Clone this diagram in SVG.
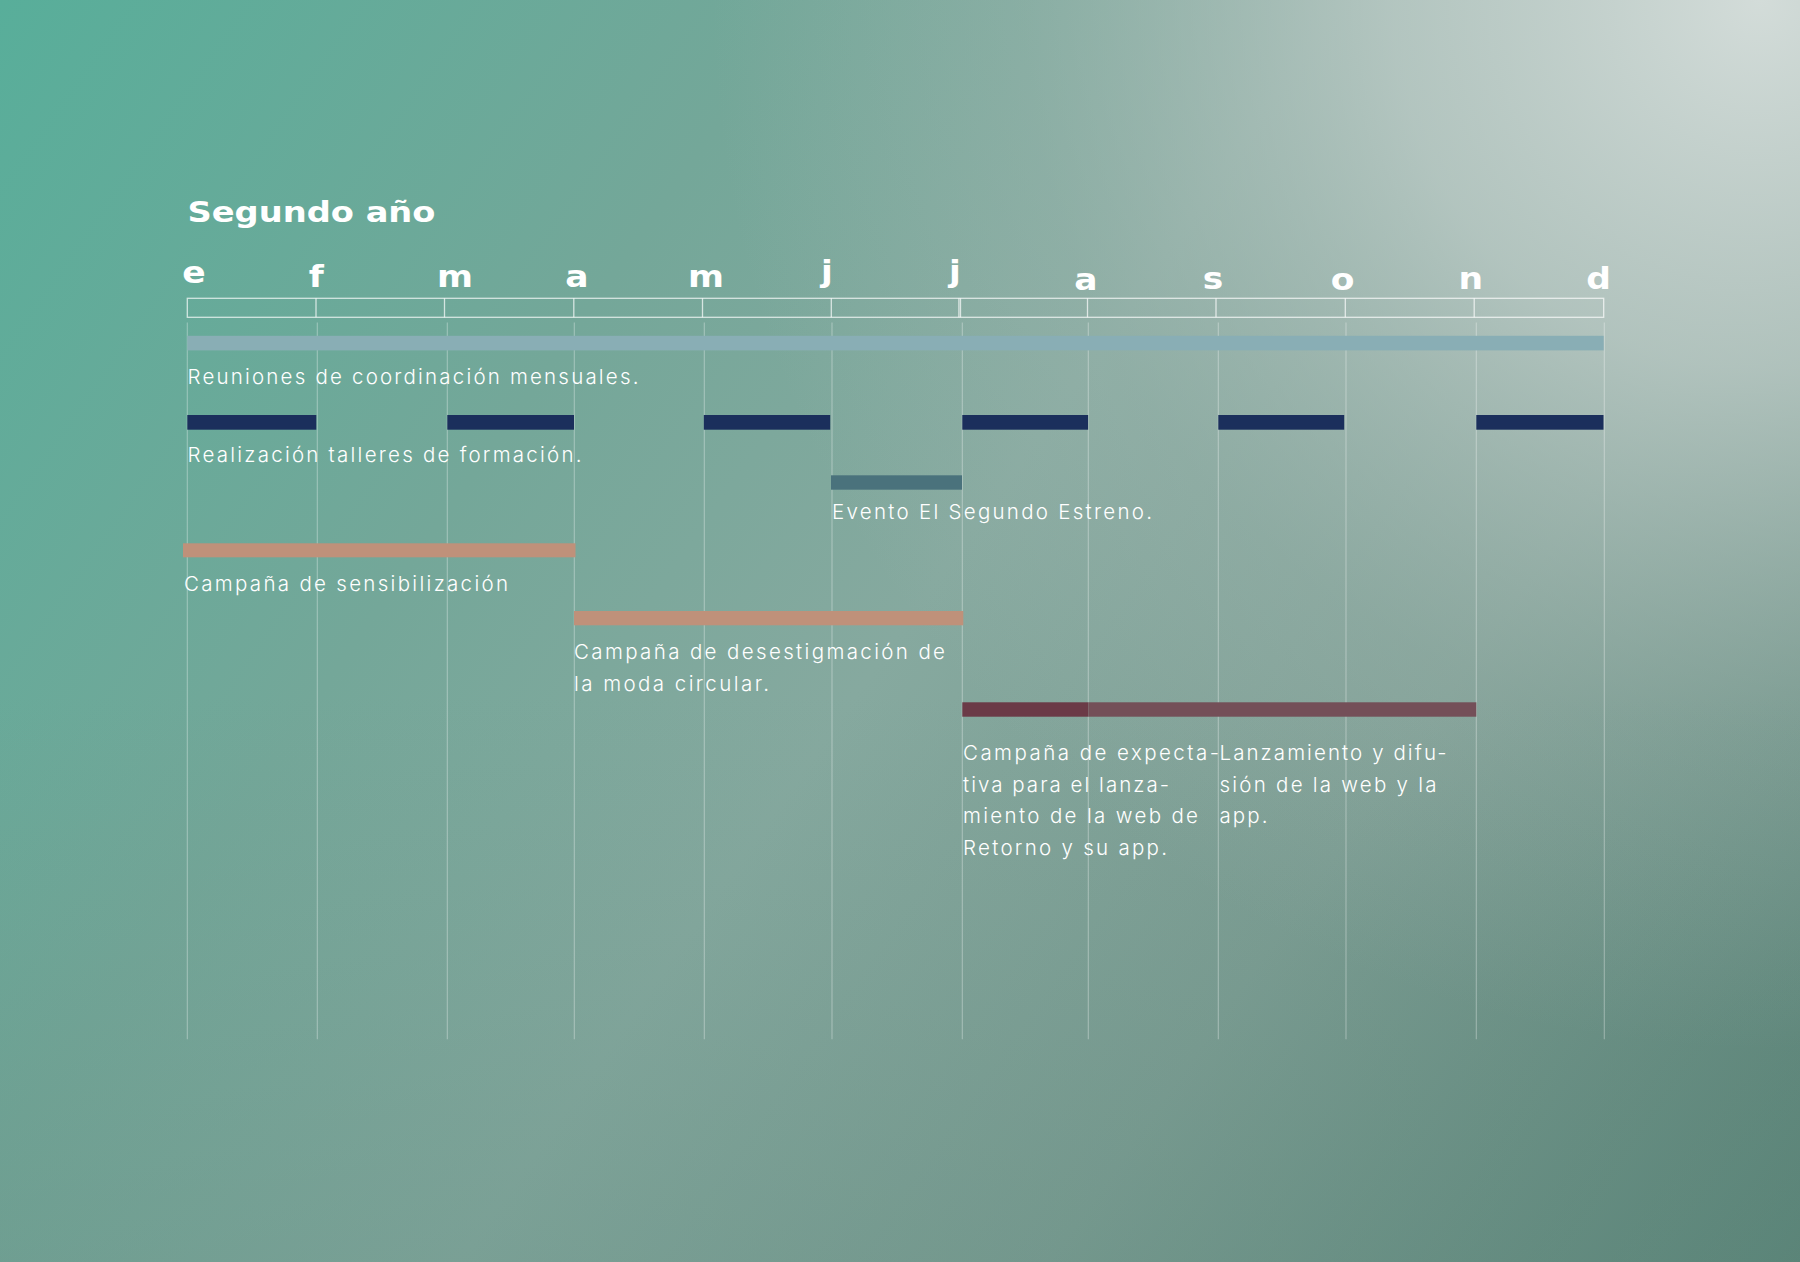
<svg xmlns="http://www.w3.org/2000/svg" width="1800" height="1262" viewBox="0 0 1800 1262">
  <defs>
    <linearGradient id="bg" gradientUnits="userSpaceOnUse" x1="0" y1="0" x2="1800" y2="1262">
      <stop offset="0" stop-color="#58ae9a"/>
      <stop offset="0.3" stop-color="#74a799"/>
      <stop offset="0.5" stop-color="#86a99f"/>
      <stop offset="0.72" stop-color="#7d9d93"/>
      <stop offset="1" stop-color="#5a8276"/>
    </linearGradient>
    <radialGradient id="glow" gradientUnits="userSpaceOnUse" cx="1760" cy="0" r="1050">
      <stop offset="0" stop-color="#d3dcd9" stop-opacity="1"/>
      <stop offset="0.35" stop-color="#c2cfcb" stop-opacity="0.75"/>
      <stop offset="0.7" stop-color="#a9bdb7" stop-opacity="0.3"/>
      <stop offset="1" stop-color="#a9bdb7" stop-opacity="0"/>
    </radialGradient>
    <linearGradient id="shade" x1="0" y1="0" x2="0" y2="1">
      <stop offset="0.55" stop-color="#5d8a7e" stop-opacity="0"/>
      <stop offset="1" stop-color="#5d8a7e" stop-opacity="0.3"/>
    </linearGradient>
  </defs>
  <style>
    .title { font-family: "DejaVu Sans", "Liberation Sans", sans-serif; font-weight: bold; fill: #ffffff; }
    .month { font-family: "DejaVu Sans", "Liberation Sans", sans-serif; font-weight: bold; font-size: 30px; fill: #ffffff; text-anchor: middle; }
    .label { font-family: Inter, "Liberation Sans", sans-serif; font-size: 20.5px; font-weight: 300; fill: #ffffff; }
    .frame { fill: none; stroke: #ffffff; stroke-opacity: 0.7; stroke-width: 1.3; }
    .div { stroke: #ffffff; stroke-opacity: 0.7; stroke-width: 1.3; }
    .grid { stroke: #ffffff; stroke-opacity: 0.33; stroke-width: 1.1; }
    .reu { fill: #89aeb5; }
    .taller { fill: #1b2f5c; }
    .evento { fill: #4a727c; }
    .camp { fill: #bf917a; }
  </style>

  <!-- background -->
  <rect x="0" y="0" width="1800" height="1262" fill="url(#bg)"/>
  <rect x="0" y="0" width="1800" height="1262" fill="url(#glow)"/>
  <rect x="0" y="0" width="1800" height="1262" fill="url(#shade)"/>

  <!-- title -->
  <g id="title">
    <text class="title" x="187.5" y="221.7" font-size="29" textLength="248" lengthAdjust="spacingAndGlyphs">Segundo año</text>
  </g>

  <!-- month header -->
  <g id="months">
    <text class="month" transform="translate(194 283) scale(1.15 1)">e</text>
    <text class="month" transform="translate(316.3 287) scale(1.15 1)">f</text>
    <text class="month" transform="translate(455 287) scale(1.15 1)">m</text>
    <text class="month" transform="translate(577 287) scale(1.15 1)">a</text>
    <text class="month" transform="translate(706 287) scale(1.15 1)">m</text>
    <text class="month" transform="translate(827 282) scale(1.15 1)">j</text>
    <text class="month" transform="translate(955 282) scale(1.15 1)">j</text>
    <text class="month" transform="translate(1086 290) scale(1.15 1)">a</text>
    <text class="month" transform="translate(1213 289.3) scale(1.15 1)">s</text>
    <text class="month" transform="translate(1342.5 289.7) scale(1.15 1)">o</text>
    <text class="month" transform="translate(1470.7 289) scale(1.15 1)">n</text>
    <text class="month" transform="translate(1598.5 289) scale(1.15 1)">d</text>
  </g>

  <g id="header-frame">
    <rect class="frame" x="187.3" y="298.3" width="1416.4" height="19"/>
    <line class="div" x1="316" y1="298.3" x2="316" y2="317.3"/>
    <line class="div" x1="444.5" y1="298.3" x2="444.5" y2="317.3"/>
    <line class="div" x1="573.8" y1="298.3" x2="573.8" y2="317.3"/>
    <line class="div" x1="702.5" y1="298.3" x2="702.5" y2="317.3"/>
    <line class="div" x1="831.3" y1="298.3" x2="831.3" y2="317.3"/>
    <line class="div" x1="958.9" y1="298.3" x2="958.9" y2="317.3"/>
    <line class="div" x1="960.5" y1="298.3" x2="960.5" y2="317.3"/>
    <line class="div" x1="1087.5" y1="298.3" x2="1087.5" y2="317.3"/>
    <line class="div" x1="1216" y1="298.3" x2="1216" y2="317.3"/>
    <line class="div" x1="1345.3" y1="298.3" x2="1345.3" y2="317.3"/>
    <line class="div" x1="1474.2" y1="298.3" x2="1474.2" y2="317.3"/>
  </g>

  <!-- grid lines -->
  <g id="connectors">
    <line class="grid" x1="187.3" y1="322.5" x2="187.3" y2="1039.3"/>
    <line class="grid" x1="317.3" y1="322.5" x2="317.3" y2="1039.3"/>
    <line class="grid" x1="447.3" y1="322.5" x2="447.3" y2="1039.3"/>
    <line class="grid" x1="574.3" y1="322.5" x2="574.3" y2="1039.3"/>
    <line class="grid" x1="704.3" y1="322.5" x2="704.3" y2="1039.3"/>
    <line class="grid" x1="832" y1="322.5" x2="832" y2="1039.3"/>
    <line class="grid" x1="962.3" y1="322.5" x2="962.3" y2="1039.3"/>
    <line class="grid" x1="1088.3" y1="322.5" x2="1088.3" y2="1039.3"/>
    <line class="grid" x1="1218.3" y1="322.5" x2="1218.3" y2="1039.3"/>
    <line class="grid" x1="1346" y1="322.5" x2="1346" y2="1039.3"/>
    <line class="grid" x1="1476.3" y1="322.5" x2="1476.3" y2="1039.3"/>
    <line class="grid" x1="1604.3" y1="322.5" x2="1604.3" y2="1039.3"/>
  </g>

  <g id="reuniones">
    <rect class="reu" x="187.3" y="335.8" width="1416.4" height="14.6"/>
    <text class="label" x="187.5" y="384.3" textLength="451" lengthAdjust="spacing">Reuniones de coordinación mensuales.</text>
  </g>

  <g id="talleres">
    <rect class="taller" x="187.3" y="415" width="129" height="14.7"/>
    <rect class="taller" x="447.3" y="415" width="126.7" height="14.7"/>
    <rect class="taller" x="703.8" y="415" width="126.4" height="14.7"/>
    <rect class="taller" x="962.3" y="415" width="125.8" height="14.7"/>
    <rect class="taller" x="1218.3" y="415" width="125.9" height="14.7"/>
    <rect class="taller" x="1476.3" y="415" width="127.2" height="14.7"/>
    <text class="label" x="187.5" y="462.3" textLength="394" lengthAdjust="spacing">Realización talleres de formación.</text>
  </g>

  <g id="evento">
    <rect class="evento" x="831" y="475.3" width="131" height="14.4"/>
    <text class="label" x="832" y="519.3" textLength="320" lengthAdjust="spacing">Evento El Segundo Estreno.</text>
  </g>

  <g id="sensibilizacion">
    <rect class="camp" x="183" y="543.3" width="392.5" height="14"/>
    <text class="label" x="184" y="590.7" textLength="324" lengthAdjust="spacing">Campaña de sensibilización</text>
  </g>

  <g id="desestigmacion">
    <rect class="camp" x="574" y="611" width="389.3" height="14.3"/>
    <text class="label" x="574" y="659.3" textLength="371" lengthAdjust="spacing">Campaña de desestigmación de</text>
    <text class="label" x="574" y="691" textLength="195" lengthAdjust="spacing">la moda circular.</text>
  </g>

  <g id="expectativa">
    <rect x="962.3" y="702.3" width="126" height="14.4" fill="#6b3a47"/>
    <text class="label" x="963" y="760" textLength="256" lengthAdjust="spacing">Campaña de expecta-</text>
    <text class="label" x="963" y="791.7" textLength="206" lengthAdjust="spacing">tiva para el lanza-</text>
    <text class="label" x="963" y="823.3" textLength="235" lengthAdjust="spacing">miento de la web de</text>
    <text class="label" x="963" y="855" textLength="204" lengthAdjust="spacing">Retorno y su app.</text>
  </g>

  <g id="lanzamiento">
    <rect x="1088.3" y="702.3" width="388" height="14.4" fill="#744f58"/>
    <text class="label" x="1219.5" y="760" textLength="227" lengthAdjust="spacing">Lanzamiento y difu-</text>
    <text class="label" x="1219.5" y="791.7" textLength="217" lengthAdjust="spacing">sión de la web y la</text>
    <text class="label" x="1219.5" y="823.3" textLength="48" lengthAdjust="spacing">app.</text>
  </g>
</svg>
